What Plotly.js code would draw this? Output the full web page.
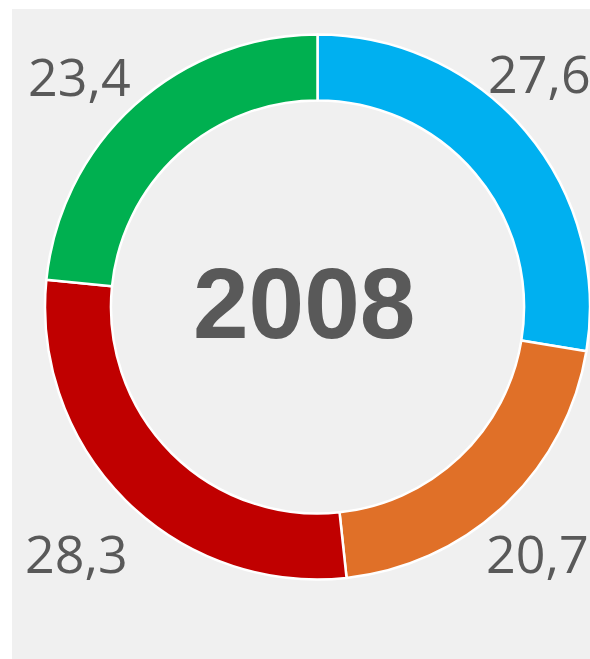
<!DOCTYPE html>
<html>
<head>
<meta charset="utf-8">
<script src="https://cdn.plot.ly/plotly-3.0.1.min.js"></script>
<style>html,body{margin:0;padding:0;background:#fff;}#chart{width:590px;height:659px;}</style>
</head>
<body>
<div id="chart"></div>
<script>
const categories = ["A", "B", "C", "D"];
const values = [27.6, 20.7, 28.3, 23.4];
const valueLabels = ["27,6", "20,7", "28,3", "23,4"];
const colors = ["#00B0F0", "#E07028", "#C00000", "#00B050"];
const centerLabel = "2008";

const labelPos = [
  {x: 593/590, y: 1 - 72/659, xanchor: "right"},
  {x: 591/590, y: 1 - 552/659, xanchor: "right"},
  {x: 23/590, y: 1 - 552/659, xanchor: "left"},
  {x: 26/590, y: 1 - 76/659, xanchor: "left"}
];

const annotations = valueLabels.map((t, i) => ({
  text: t, xref: "paper", yref: "paper",
  x: labelPos[i].x, y: labelPos[i].y, xanchor: labelPos[i].xanchor, yanchor: "middle",
  showarrow: false,
  font: {family: "Open Sans, sans-serif", size: 52, color: "#595959"}
}));
annotations.push({
  text: "<b>" + centerLabel + "</b>", xref: "paper", yref: "paper",
  x: 304/590, y: 1 - 303/659, xanchor: "center", yanchor: "middle", showarrow: false,
  font: {family: "Liberation Sans, Arial, sans-serif", size: 100, color: "#595959"}
});

const data = [{
  type: "pie",
  labels: categories,
  values: values,
  hole: 0.758,
  sort: false,
  direction: "clockwise",
  rotation: 0,
  textinfo: "none",
  hoverinfo: "none",
  marker: {colors: colors, line: {color: "#FFFFFF", width: 2.5}},
  domain: {x: [0.0763, 1], y: [0.1206, 0.9477]}
}];

const layout = {
  width: 590, height: 659,
  margin: {l: 0, r: 0, t: 0, b: 0},
  paper_bgcolor: "#FFFFFF",
  showlegend: false,
  shapes: [{type: "rect", xref: "paper", yref: "paper", x0: 12/590, x1: 1, y0: 0, y1: 1 - 9/659,
    fillcolor: "#F0F0F0", line: {width: 0}, layer: "below"}],
  annotations: annotations
};

Plotly.newPlot("chart", data, layout, {displayModeBar: false, staticPlot: true});
</script>
</body>
</html>
